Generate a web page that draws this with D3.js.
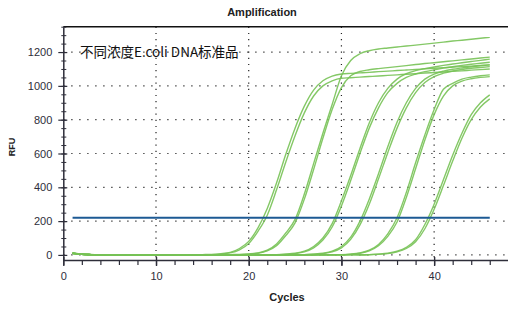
<!DOCTYPE html>
<html>
<head>
<meta charset="utf-8">
<script src="https://cdn.jsdelivr.net/npm/d3@7"></script>
<style>
  body { margin: 0; background: #fff; }
</style>
</head>
<body>
<svg id="viz" width="508" height="309"></svg>
<script>
var width = 508, height = 309

var cycles = [1, 2, 3, 4, 5, 6, 7, 8, 9, 10, 11, 12, 13, 14, 15, 16, 17, 18, 19, 20, 21, 22, 23,
  24, 25, 26, 27, 28, 29, 30, 31, 32, 33, 34, 35, 36, 37, 38, 39, 40, 41, 42, 43, 44, 45, 46]

// RFU per cycle, two replicates for each of six dilutions
var g1a = [9, 4, 2, 1, 0, -1, 1, 2, 0, -1, 1, 0, 2, 1, 2,
  3, 7, 15, 38, 80, 160, 275, 425, 595, 750, 880, 975, 1030, 1058, 1070,
  1074, 1077, 1080, 1084, 1087, 1091, 1094, 1097, 1101, 1104, 1108, 1111, 1114, 1117, 1121, 1124]
var g1b = [11, 5, 3, 0, 1, 0, -1, 1, 1, 0, -1, 1, 0, 1, 1,
  2, 5, 12, 30, 68, 140, 235, 385, 550, 705, 840, 940, 1000, 1030, 1045,
  1048, 1052, 1055, 1058, 1062, 1065, 1069, 1072, 1076, 1079, 1082, 1086, 1089, 1093, 1096, 1100]
var g2a = [8, 3, 1, 0, -1, 0, 1, 0, -1, 0, 1, 0, -1, 0, 1, 0, 1, 2,
  3, 6, 12, 28, 65, 130, 210, 360, 540, 720, 890, 1060, 1150, 1190, 1208, 1218,
  1224, 1230, 1236, 1241, 1247, 1253, 1259, 1265, 1270, 1276, 1282, 1288]
var g2b = [10, 4, 2, 1, 0, 1, -1, 0, 1, 0, 0, 1, 0, -1, 0, 1, 1, 1,
  2, 5, 10, 24, 55, 115, 190, 330, 505, 690, 860, 990, 1060, 1085, 1095, 1102,
  1108, 1114, 1120, 1126, 1132, 1137, 1143, 1148, 1154, 1159, 1165, 1170]
var g3a = [9, 3, 1, 0, 1, 0, -1, 0, 1, 1, 0, -1, 0, 1, 0, 0, 1, 0, 1, 0, 1, 1,
  2, 5, 10, 22, 50, 100, 185, 320, 470, 630, 780, 900, 985, 1040, 1072, 1090,
  1102, 1112, 1121, 1129, 1137, 1144, 1151, 1158]
var g3b = [12, 5, 2, 1, 0, 0, 1, -1, 0, 0, 1, 0, 0, -1, 1, 0, 0, 1, 0, 1, 0, 1,
  1, 4, 8, 18, 42, 88, 165, 290, 440, 600, 750, 870, 960, 1015, 1050, 1070,
  1084, 1095, 1105, 1113, 1121, 1128, 1134, 1140]
var g4a = [8, 4, 1, 0, 0, 1, 0, -1, 0, 1, 0, 0, 1, 0, -1, 0, 1, 0, 0, 1, 0, 1, 1, 0, 1,
  2, 5, 10, 22, 50, 105, 200, 330, 480, 640, 785, 900, 985, 1040, 1070,
  1087, 1098, 1106, 1113, 1119, 1124]
var g4b = [10, 3, 2, 1, 0, 0, -1, 0, 1, 0, 0, -1, 0, 1, 0, 0, 0, 1, 0, 0, 1, 0, 1, 1, 0,
  1, 4, 8, 18, 42, 92, 178, 300, 450, 605, 750, 870, 960, 1020, 1055,
  1075, 1088, 1097, 1104, 1109, 1114]
var g5a = [9, 4, 2, 0, 1, 0, 0, -1, 0, 1, 0, 0, -1, 0, 1, 0, 0, 1, 0, 0, -1, 0, 1, 0, 1, 0, 1, 1, 1,
  2, 5, 12, 28, 62, 125, 220, 370, 545, 710, 860, 980, 1015, 1040, 1052, 1060, 1065]
var g5b = [11, 4, 1, 1, 0, 0, 1, 0, -1, 0, 0, 1, 0, 0, -1, 0, 1, 0, 0, 1, 0, 0, 0, 1, 0, 1, 0, 1, 1,
  1, 4, 10, 24, 54, 110, 195, 340, 510, 680, 830, 940, 1000, 1028, 1042, 1050, 1055]
var g6a = [10, 4, 2, 1, 0, 0, -1, 0, 1, 0, 0, 1, 0, -1, 0, 0, 1, 0, 0, 1, 0, -1, 0, 1, 0, 0, 1, 0, 1, 0, 1, 1,
  2, 5, 10, 22, 45, 90, 180, 300, 445, 590, 720, 830, 900, 947]
var g6b = [12, 5, 2, 0, 1, 0, 0, 1, 0, -1, 0, 0, 1, 0, 0, -1, 0, 1, 0, 0, 1, 0, 0, 0, 1, 0, 0, 1, 0, 1, 1, 0,
  1, 4, 8, 18, 38, 78, 155, 270, 410, 555, 690, 800, 875, 923]

var series = [g1a, g1b, g2a, g2b, g3a, g3b, g4a, g4b, g5a, g5b, g6a, g6b]

var threshold = 220
var thresholdRange = [1, 46]

var yTicks = [0, 200, 400, 600, 800, 1000, 1200]
var xTicks = [0, 10, 20, 30, 40]
var title = 'Amplification'
var xTitle = 'Cycles'
var yTitle = 'RFU'
var note = '不同浓度E.coli DNA标准品'

var x = d3.scaleLinear().domain([0, 48]).range([63.3, 508.3])
var y = d3.scaleLinear().domain([-30, 1350]).range([260, 26.7])

var svg = d3.select('svg#viz')
var ink = '#2e2e3a'
var font = '"Liberation Sans", Arial, sans-serif'

// grid
svg.append('g').selectAll('line')
  .data(yTicks)
  .enter().append('line')
  .attr('x1', x(0)).attr('x2', width)
  .attr('y1', function(d) { return y(d) }).attr('y2', function(d) { return y(d) })
  .attr('stroke', '#222').attr('stroke-width', 1.2)
  .attr('stroke-dasharray', '1.2,6.8')

svg.append('g').selectAll('line')
  .data(xTicks.slice(1))
  .enter().append('line')
  .attr('x1', function(d) { return x(d) }).attr('x2', function(d) { return x(d) })
  .attr('y1', y(1350)).attr('y2', y(-30))
  .attr('stroke', '#222').attr('stroke-width', 1.2)
  .attr('stroke-dasharray', '1.2,5')

// top border
svg.append('line')
  .attr('x1', x(0)).attr('x2', width)
  .attr('y1', y(1350)).attr('y2', y(1350))
  .attr('stroke', '#111').attr('stroke-width', 1.5)

// note text
svg.append('text')
  .attr('x', 80).attr('y', 57)
  .style('font-family', '"Noto Sans CJK SC", "Noto Sans", sans-serif')
  .style('font-size', '13.5px')
  .attr('fill', '#111')
  .text(note)

// curves
var line = d3.line()
  .x(function(d, i) { return x(cycles[i]) })
  .y(function(d) { return y(d) })
  .curve(d3.curveMonotoneX)

svg.append('g').selectAll('path')
  .data(series)
  .enter().append('path')
  .attr('d', line)
  .attr('fill', 'none')
  .attr('stroke', '#77c255')
  .attr('stroke-width', 1.4)
  .attr('stroke-opacity', 0.9)

// threshold
svg.append('line')
  .attr('x1', x(thresholdRange[0])).attr('x2', x(thresholdRange[1]))
  .attr('y1', y(threshold)).attr('y2', y(threshold))
  .attr('stroke', '#1d5a94').attr('stroke-width', 2)

// y axis
var yMinor = d3.range(0, 1351, 50)
svg.append('g')
  .attr('transform', 'translate(' + x(0) + ',0)')
  .call(d3.axisLeft(y).tickValues(yMinor).tickSize(2).tickSizeOuter(0).tickFormat(''))
  .call(function(g) { g.select('.domain').remove() })
  .selectAll('line').attr('x2', 3).attr('x1', -2).attr('stroke', ink)

var yAxis = svg.append('g')
  .attr('transform', 'translate(' + x(0) + ',0)')
  .call(d3.axisLeft(y).tickValues(yTicks).tickSize(5).tickSizeOuter(0).tickPadding(6)
    .tickFormat(d3.format('d')))
yAxis.selectAll('.tick line').attr('x2', 4).attr('x1', -5).attr('stroke', ink).attr('stroke-width', 1.2)
yAxis.select('.domain').attr('stroke', ink).attr('stroke-width', 1.5)
yAxis.selectAll('text').attr('fill', ink).style('font-size', '11px').style('font-family', font)

// x axis
var xMinor = d3.range(0, 49, 2)
svg.append('g')
  .attr('transform', 'translate(0,' + y(-30) + ')')
  .call(d3.axisBottom(x).tickValues(xMinor).tickSize(5).tickSizeOuter(0).tickFormat(''))
  .call(function(g) { g.select('.domain').remove() })
  .selectAll('line').attr('stroke', ink).attr('stroke-width', 1.2)

var xAxis = svg.append('g')
  .attr('transform', 'translate(0,' + y(-30) + ')')
  .call(d3.axisBottom(x).tickValues(xTicks).tickSize(6).tickSizeOuter(0).tickPadding(6)
    .tickFormat(d3.format('d')))
xAxis.selectAll('.tick line').attr('y1', -3).attr('stroke', ink).attr('stroke-width', 1.4)
xAxis.select('.domain').attr('stroke', ink).attr('stroke-width', 1.5)
xAxis.selectAll('text').attr('fill', ink).style('font-size', '11px').style('font-family', font)

// titles
svg.append('text')
  .attr('x', 262).attr('y', 16)
  .attr('text-anchor', 'middle')
  .style('font-family', font)
  .style('font-size', '11px').style('font-weight', 'bold')
  .attr('fill', '#222')
  .text(title)

svg.append('text')
  .attr('x', 287).attr('y', 301)
  .attr('text-anchor', 'middle')
  .style('font-family', font)
  .style('font-size', '11px').style('font-weight', 'bold')
  .attr('fill', '#222')
  .text(xTitle)

svg.append('text')
  .attr('transform', 'translate(15,147) rotate(-90)')
  .attr('text-anchor', 'middle')
  .style('font-family', font)
  .style('font-size', '9px').style('font-weight', 'bold')
  .attr('fill', '#222')
  .text(yTitle)
</script>
</body>
</html>
